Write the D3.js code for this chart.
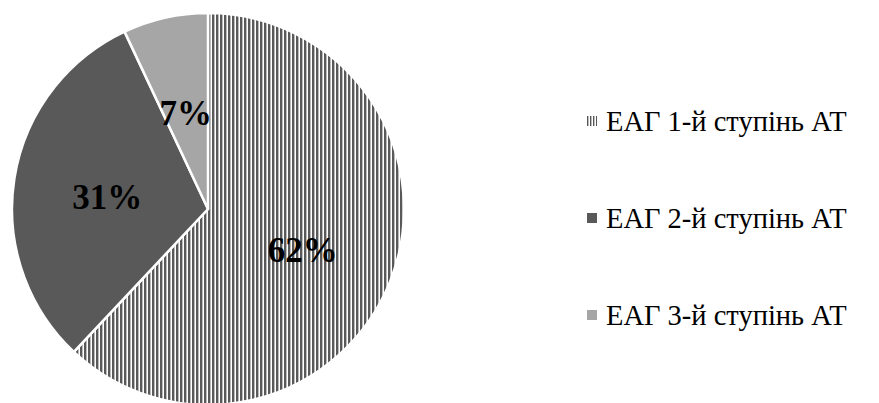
<!DOCTYPE html>
<html><head><meta charset="utf-8">
<script src="https://cdn.jsdelivr.net/npm/d3@7"></script>
<style>body{margin:0;background:#fff}svg{display:block}</style>
</head><body>
<svg id="c" width="879" height="403"></svg>
<script>
const categories = ["ЕАГ 1-й ступінь АТ", "ЕАГ 2-й ступінь АТ", "ЕАГ 3-й ступінь АТ"];
const values = [62, 31, 7];
const labels = ["62%", "31%", "7%"];

const svg = d3.select("#c");
const defs = svg.append("defs");
const pat = defs.append("pattern").attr("id", "vstripe").attr("patternUnits", "userSpaceOnUse")
  .attr("width", 4).attr("height", 4);
pat.append("rect").attr("width", 4).attr("height", 4).attr("fill", "#fff");
pat.append("rect").attr("x", 0).attr("width", 2.4).attr("height", 4).attr("fill", "#595959");
const pat2 = defs.append("pattern").attr("id", "vstripeS").attr("patternUnits", "userSpaceOnUse")
  .attr("width", 3).attr("height", 3);
pat2.append("rect").attr("width", 3).attr("height", 3).attr("fill", "#fff");
pat2.append("rect").attr("width", 1.4).attr("height", 3).attr("fill", "#595959");

const fills = ["url(#vstripe)", "#595959", "#a6a6a6"];
const legendFills = ["url(#vstripeS)", "#595959", "#a6a6a6"];

const cx = 208, cy = 209, R = 196;
const pie = d3.pie().sort(null).value(d => d);
const arcs = pie(values);
const arc = d3.arc().innerRadius(0).outerRadius(R);
const labelArc = d3.arc().innerRadius(R * 0.52).outerRadius(R * 0.52);

const g = svg.append("g").attr("transform", `translate(${cx},${cy})`);
g.selectAll("path").data(arcs).join("path")
  .attr("d", arc).attr("fill", (d, i) => fills[i])
  .attr("stroke", "#fff").attr("stroke-width", 2.5).attr("stroke-linejoin", "round");

g.selectAll("text").data(arcs).join("text")
  .attr("transform", d => `translate(${labelArc.centroid(d)})`)
  .attr("text-anchor", "middle").attr("dy", "0.45em")
  .attr("font-family", "'Liberation Serif','Times New Roman',serif")
  .attr("font-weight", "bold").attr("font-size", 35).attr("fill", "#000")
  .text((d, i) => labels[i]);

const lg = svg.append("g");
const rowY = d3.scalePoint().domain(categories).range([121, 315]);
const items = lg.selectAll("g").data(categories).join("g")
  .attr("transform", d => `translate(587,${rowY(d)})`);
items.append("rect").attr("x", 0).attr("y", -5).attr("width", 10).attr("height", 10)
  .attr("fill", (d, i) => legendFills[i]);
items.append("text").attr("x", 19).attr("dy", "0.35em")
  .attr("font-family", "'Liberation Serif','Times New Roman',serif")
  .attr("font-size", 28.5).attr("fill", "#000").text(d => d);
</script>
</body></html>
